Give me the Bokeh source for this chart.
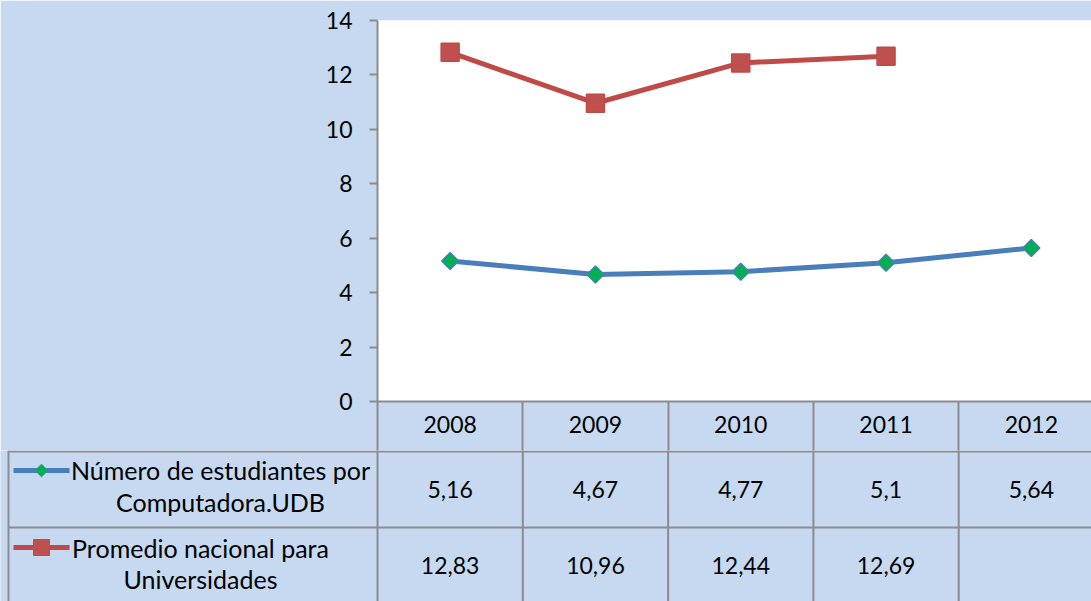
import numpy as np
from bokeh.plotting import figure
from bokeh.layouts import column
from bokeh.models import Range1d, FixedTicker
from bokeh.core.properties import value
from bokeh.embed import file_html
from bokeh.resources import INLINE

# ---------------- data ----------------
years = [2008, 2009, 2010, 2011, 2012]
year_labels = ["2008", "2009", "2010", "2011", "2012"]
udb = [5.16, 4.67, 4.77, 5.1, 5.64]
nacional = [12.83, 10.96, 12.44, 12.69, None]
series_names = [["Número de estudiantes por", "Computadora.UDB"],
                ["Promedio nacional para", "Universidades"]]
y_ticks = [0, 2, 4, 6, 8, 10, 12, 14]

# ---------------- style ----------------
BG = "#C6D9F1"
GRID = "#8C8C8C"
BLUE = "#4A7EBB"
GREEN = "#00B050"
RED = "#BE4B48"
FONT = "Lato"
FS = "23px"
FS_LEG = "25px"

W, H = 1091, 601
FRAME_L, FRAME_T, FRAME_B = 377, 20, 401
ROW1 = 450              # bottom of the year row
COL_W = 145.3

x0 = years[0] - 0.5
x_end = x0 + (W - FRAME_L) / COL_W


def px2x(px):
    return x0 + (px - FRAME_L) / COL_W


def fmt(v):
    return ("%g" % v).replace(".", ",")


nac = [np.nan if v is None else v for v in nacional]
bounds = [y - 0.5 for y in years] + [years[-1] + 0.5]

# ---------------- chart ----------------
top = figure(width=W, height=ROW1, x_range=Range1d(x0, x_end),
             y_range=Range1d(0, 14), output_backend="svg", toolbar_location=None,
             min_border_left=FRAME_L, min_border_right=0,
             min_border_top=FRAME_T, min_border_bottom=ROW1 - FRAME_B, frame_align=False)
top.background_fill_color = "white"
top.border_fill_color = BG
top.outline_line_color = None
top.grid.visible = False

ya = top.yaxis[0]
ya.ticker = FixedTicker(ticks=y_ticks)
ya.axis_line_color = GRID
ya.axis_line_width = 2
ya.major_tick_line_color = GRID
ya.major_tick_line_width = 2
ya.major_tick_in = 0
ya.major_tick_out = 8
ya.minor_tick_line_color = None
ya.major_label_standoff = 17
ya.major_label_text_font = FONT
ya.major_label_text_font_size = FS
ya.major_label_text_color = "black"

xa = top.xaxis[0]
xa.ticker = FixedTicker(ticks=years, minor_ticks=bounds)
xa.major_label_overrides = {y: lbl for y, lbl in zip(years, year_labels)}
xa.axis_line_color = GRID
xa.axis_line_width = 2
xa.major_tick_line_color = None
xa.major_tick_in = 0
xa.major_tick_out = 0
xa.minor_tick_line_color = GRID
xa.minor_tick_line_width = 2
xa.minor_tick_in = 0
xa.minor_tick_out = ROW1 - FRAME_B
xa.major_label_standoff = 14 - (ROW1 - FRAME_B)
xa.major_label_text_font = FONT
xa.major_label_text_font_size = FS
xa.major_label_text_color = "black"

top.line(years, udb, line_width=5, line_color=BLUE, line_join="round")
top.scatter(years, udb, marker="square", angle=np.pi / 4, size=12,
            fill_color=GREEN, line_color=BLUE, line_width=1.5)
top.line(years, nac, line_width=5, line_color=RED, line_join="round")
top.scatter(years, nac, marker="square", size=18, fill_color="#C0504D",
            line_color=RED, line_width=1.5)

# ---------------- data table ----------------
bot = figure(width=W, height=H - ROW1, x_range=Range1d(px2x(0), x_end),
             y_range=Range1d(H, ROW1), output_backend="svg",
             toolbar_location=None, x_axis_location=None, y_axis_location=None,
             min_border=0, frame_align=False)
bot.background_fill_color = BG
bot.border_fill_color = BG
bot.outline_line_color = None
bot.grid.visible = False

right = x_end + 1
LEFT = px2x(8)
# horizontal borders
bot.segment(x0=[LEFT, LEFT], y0=[ROW1 + 1, 527], x1=[right, right], y1=[ROW1 + 1, 527],
            line_color=GRID, line_width=2)
# vertical borders
bot.segment(x0=bounds, y0=[ROW1 - 5] * len(bounds), x1=bounds, y1=[H + 10] * len(bounds),
            line_color=GRID, line_width=2)
bot.segment(x0=[LEFT], y0=[ROW1], x1=[LEFT], y1=[H + 10], line_color=GRID, line_width=2)

txt = dict(text_font=value(FONT), text_font_size=FS, text_color="black",
           text_align="center", text_baseline="middle")
bot.text(x=years, y=[489] * len(years), text=[fmt(v) for v in udb], **txt)
nx = [y for y, v in zip(years, nacional) if v is not None]
nt = [fmt(v) for v in nacional if v is not None]
bot.text(x=nx, y=[565] * len(nx), text=nt, **txt)

# legend keys
bot.segment(x0=[px2x(13)], y0=[470], x1=[px2x(69)], y1=[470], line_color=BLUE, line_width=5)
bot.scatter([px2x(41)], [470], marker="square", angle=np.pi / 4, size=9,
            fill_color=GREEN, line_color=BLUE, line_width=1)
bot.segment(x0=[px2x(13)], y0=[547], x1=[px2x(69)], y1=[547], line_color=RED, line_width=5)
bot.scatter([px2x(41)], [547], marker="square", size=16,
            fill_color="#C0504D", line_color=RED, line_width=1)

leg = dict(txt, text_font_size=FS_LEG)
bot.text(x=[px2x(220), px2x(220)], y=[469, 501], text=series_names[0], **leg)
bot.text(x=[px2x(200), px2x(200)], y=[547, 578], text=series_names[1], **leg)

layout = column(top, bot, spacing=0)
open("out.html", "w").write(file_html(layout, INLINE))
